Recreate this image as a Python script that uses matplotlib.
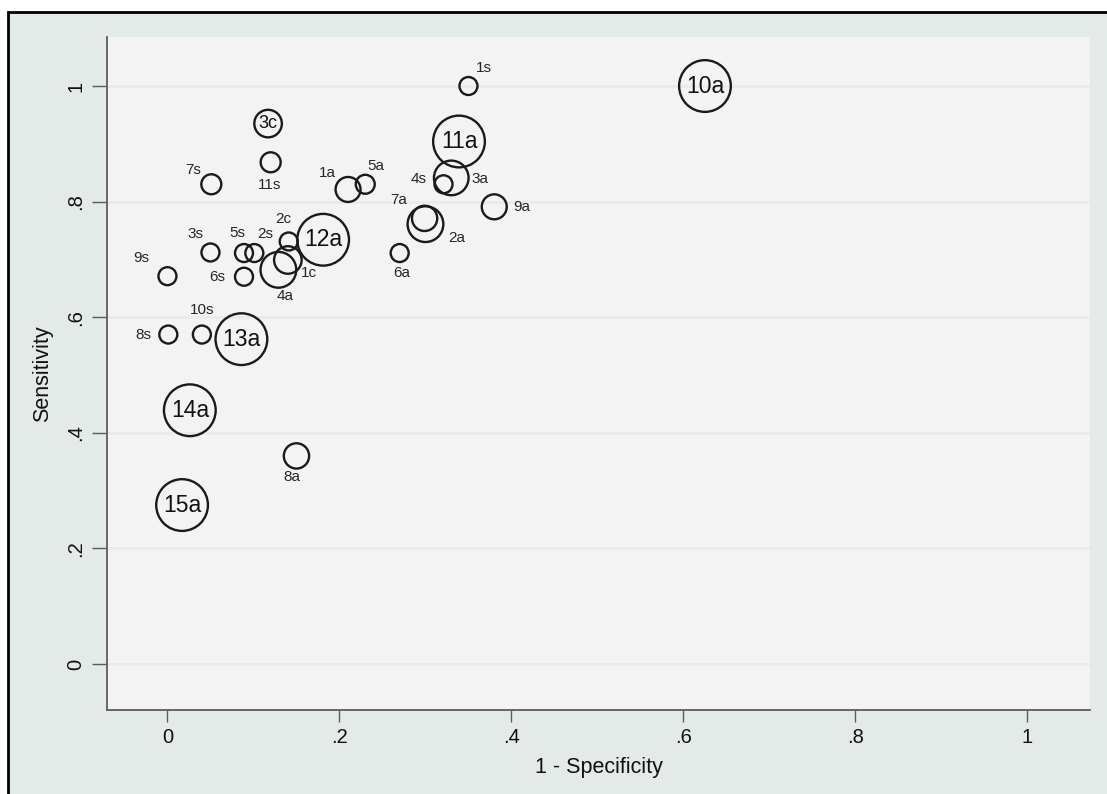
import matplotlib
matplotlib.use("Agg")
import matplotlib.pyplot as plt
from matplotlib.patches import Rectangle

# ---------------- data ----------------
study = ["1s", "3c", "11s", "7s", "1a", "5a", "11a", "3a", "4s", "9a",
         "7a", "2a", "6a", "12a", "2c", "1c", "4a", "2s", "5s", "3s",
         "6s", "9s", "8s", "10s", "13a", "14a", "8a", "15a", "10a"]
one_minus_spec = [0.350, 0.117, 0.120, 0.051, 0.210, 0.230, 0.339, 0.330, 0.321, 0.380,
                  0.299, 0.300, 0.270, 0.181, 0.141, 0.140, 0.129, 0.101, 0.089, 0.050,
                  0.089, 0.000, 0.001, 0.040, 0.086, 0.026, 0.150, 0.017, 0.625]
sensitivity = [1.000, 0.935, 0.868, 0.830, 0.821, 0.830, 0.904, 0.841, 0.830, 0.791,
               0.771, 0.761, 0.711, 0.734, 0.731, 0.699, 0.682, 0.711, 0.711, 0.712,
               0.670, 0.671, 0.570, 0.570, 0.562, 0.439, 0.360, 0.275, 1.000]
weight = [81, 190, 100, 100, 156, 90, 670, 300, 81, 156,
          160, 320, 81, 670, 81, 190, 320, 81, 81, 81,
          81, 81, 81, 81, 670, 670, 160, 670, 670]

xticks = [0, 0.2, 0.4, 0.6, 0.8, 1.0]
xticklabels = ["0", ".2", ".4", ".6", ".8", "1"]
yticks = [0, 0.2, 0.4, 0.6, 0.8, 1.0]
yticklabels = ["0", ".2", ".4", ".6", ".8", "1"]

# ---------------- style ----------------
# label offsets in pixels (dx, dy); studies not listed are centered inside the bubble
label_offset = {
    "1s": (15, 18), "11s": (-1, -23), "7s": (-18, 14), "1a": (-21, 16),
    "5a": (11, 18), "3a": (29, -1), "4s": (-25, 5), "9a": (27, 0),
    "7a": (-26, 18), "2a": (31, -14), "6a": (2, -20), "2c": (-5, 22),
    "1c": (21, -13), "4a": (7, -26), "2s": (11, 19), "5s": (-7, 20),
    "3s": (-15, 18), "6s": (-27, 0), "9s": (-26, 18), "8s": (-25, 0),
    "10s": (0, 25), "8a": (-5, -21),
}

FONT = "Liberation Sans"
plt.rcParams["font.family"] = [FONT, "DejaVu Sans"]

W, H = 1107, 794
fig = plt.figure(figsize=(W / 100, H / 100), dpi=100)
fig.patch.set_facecolor("white")

# outer graph region with black frame on left/top
bg = Rectangle((8 / W, -0.05), 1.2, 1 - 12 / H + 0.05, transform=fig.transFigure,
               facecolor="#e3eae8", edgecolor="black", linewidth=2.0, zorder=-10)
fig.patches.append(bg)

ax = fig.add_axes([107 / W, (H - 710) / H, (1090 - 107) / W, (710 - 37) / H])
ax.set_zorder(1)
ax.set_facecolor("#f3f3f3")

ax.set_xlim(-0.0703, 1.0727)
ax.set_ylim(-0.0796, 1.0848)

ax.spines["top"].set_visible(False)
ax.spines["right"].set_visible(False)
for sp in ("left", "bottom"):
    ax.spines[sp].set_color("#5c5c5c")
    ax.spines[sp].set_linewidth(1.3)

ax.yaxis.grid(True, color="#e9ecec", linewidth=2.0)
ax.set_axisbelow(True)

# bubbles
sizes = [w * 2.07 for w in weight]
ax.scatter(one_minus_spec, sensitivity, s=sizes, facecolors="none",
           edgecolors="#1a1a1a", linewidths=1.7, zorder=3)

# labels
for name, xv, yv, w in zip(study, one_minus_spec, sensitivity, weight):
    if name in label_offset:
        dx, dy = label_offset[name]
        ax.annotate(name, (xv, yv), xytext=(dx, dy), textcoords="offset pixels",
                    ha="center", va="center", fontsize=11, color="#262626", zorder=4)
    else:
        fs = 16.5 if w > 400 else 13
        ax.annotate(name, (xv, yv), xytext=(0, 0), textcoords="offset pixels",
                    ha="center", va="center", fontsize=fs, color="#111111", zorder=4)

ax.set_xticks(xticks)
ax.set_xticklabels(xticklabels)
ax.set_yticks(yticks)
ax.set_yticklabels(yticklabels, rotation=90, va="center")

ax.tick_params(axis="x", length=8.5, width=1.0, color="#5c5c5c", pad=4.5,
               labelsize=14.5, labelcolor="#111111")
ax.tick_params(axis="y", length=10.5, width=1.0, color="#5c5c5c", pad=5,
               labelsize=14.5, labelcolor="#111111")

ax.set_xlabel("1 - Specificity", fontsize=15.5, color="#111111", labelpad=7)
ax.set_ylabel("Sensitivity", fontsize=15.5, color="#111111", labelpad=10)

fig.savefig("out.png", dpi=100)
